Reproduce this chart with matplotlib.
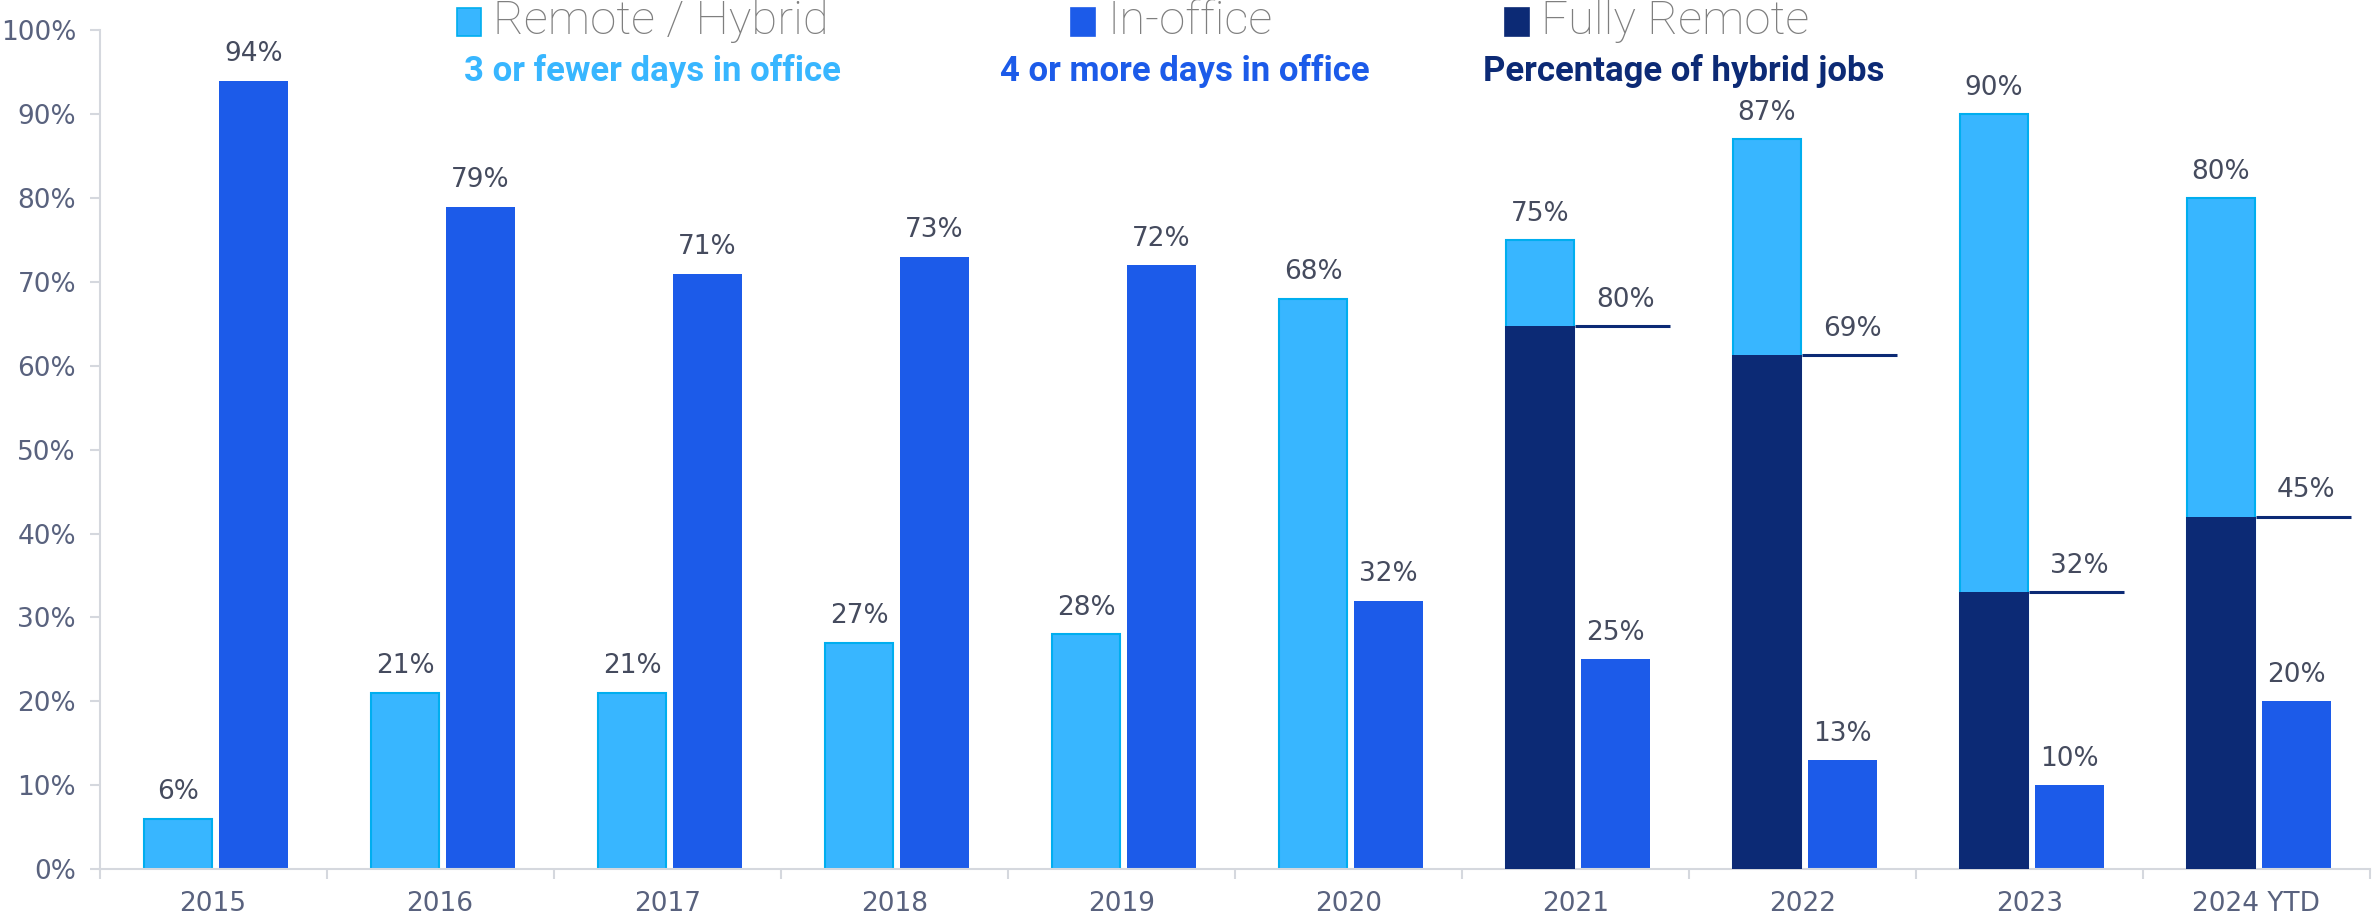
"""
Remote / hybrid vs in-office job share by year, with fully remote overlay
"""
import numpy as np
import matplotlib.pyplot as plt

years = ['2015', '2016', '2017', '2018', '2019', '2020', '2021', '2022', '2023', '2024 YTD']
remote_hybrid = [6, 21, 21, 27, 28, 68, 75, 87, 90, 80]
in_office = [94, 79, 71, 73, 72, 32, 25, 13, 10, 20]
# fully remote bar heights (only 2021 onwards)
fully_remote = [np.nan] * 6 + [64.7, 61.3, 33.0, 42.0]
hybrid_pct = [None] * 6 + [80, 69, 32, 45]

LIGHT = '#38B6FF'
LIGHT_EDGE = '#00AEEF'
OFFICE = '#1C5BE9'
NAVY = '#0C2A75'
LABEL = '#454B5E'
TICK = '#59627E'
SPINE = '#D5D8DE'

plt.rcParams['font.family'] = ['DejaVu Sans']

fig = plt.figure(figsize=(23.72, 9.22), dpi=100)
ax = fig.add_axes([0.042, 0.0575, 0.957, 0.9095])

x = np.arange(len(years))
w = 0.30
off_l, off_o = -0.155, 0.178

ax.bar(x + off_l, remote_hybrid, w, color=LIGHT, edgecolor=LIGHT_EDGE, linewidth=1.5, zorder=2)
ax.bar(x + off_o, in_office, w, color=OFFICE, linewidth=0, zorder=2)
ax.bar(x + off_l, fully_remote, w + 0.01, color=NAVY, linewidth=0, zorder=3)

for i in range(len(years)):
    ax.text(x[i] + off_l, remote_hybrid[i] + 1.6, f'{remote_hybrid[i]}%',
            ha='center', va='bottom', fontsize=19, color=LABEL)
    ax.text(x[i] + off_o, in_office[i] + 1.6, f'{in_office[i]}%',
            ha='center', va='bottom', fontsize=19, color=LABEL)

# hybrid share markers
for i, (h, p) in enumerate(zip(fully_remote, hybrid_pct)):
    if p is None:
        continue
    x0 = x[i] + off_l + (w + 0.01) / 2
    ax.plot([x0, x[i] + 0.42], [h, h], color=NAVY, linewidth=2.2, zorder=4,
            solid_capstyle='butt')
    ax.text(x[i] + 0.22, h + 1.6, f'{p}%', ha='center', va='bottom',
            fontsize=19, color=LABEL)

ax.set_xlim(-0.5, len(years) - 0.5)
ax.set_ylim(0, 100)
ax.set_yticks(range(0, 101, 10))
ax.set_yticklabels([f'{v}%' for v in range(0, 101, 10)])
ax.set_xticks(x)
ax.set_xticklabels(years)
ax.set_xticks(np.arange(-0.5, len(years), 1), minor=True)
ax.tick_params(axis='x', which='major', length=0, pad=16, labelsize=19, labelcolor=TICK)
ax.tick_params(axis='x', which='minor', length=7, width=1.5, color=SPINE)
ax.tick_params(axis='y', length=7, width=1.5, color=SPINE, pad=10, labelsize=19, labelcolor=TICK)

for s in ['top', 'right']:
    ax.spines[s].set_visible(False)
for s in ['left', 'bottom']:
    ax.spines[s].set_color(SPINE)
    ax.spines[s].set_linewidth(1.5)

# legend header
legend_items = [(302, 'Remote / Hybrid', LIGHT, LIGHT_EDGE),
                (708, 'In-office', OFFICE, OFFICE),
                (995, 'Fully Remote', NAVY, NAVY)]
for px, name, fc, ec in legend_items:
    fig.patches.append(plt.Rectangle((px / 1568, 1 - 24 / 609), 16 / 1568, 19 / 609,
                                     transform=fig.transFigure, facecolor=fc,
                                     edgecolor=ec, linewidth=1.2))
    fig.text((px + 24) / 1568, 1 - 14 / 609, name, ha='left', va='center',
             fontsize=34, color='#7F7F7F', family='Roboto', fontweight='light')

subs = [(431, '3 or fewer days in office', LIGHT),
        (783, '4 or more days in office', OFFICE),
        (1113, 'Percentage of hybrid jobs', NAVY)]
for px, txt, c in subs:
    fig.text(px / 1568, 1 - 47 / 609, txt, ha='center', va='center',
             fontsize=25, color=c, fontweight='bold', family='Roboto')

fig.savefig('out.png', dpi=100)
